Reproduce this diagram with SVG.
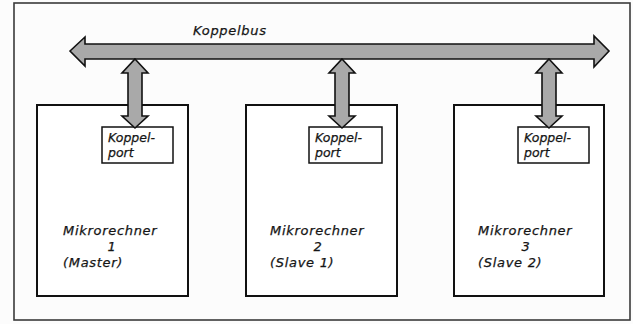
<svg xmlns="http://www.w3.org/2000/svg" width="633" height="324" viewBox="0 0 633 324">
  <style>
    .frame { fill: none; stroke: #3a3a3a; stroke-width: 1.6; }
    .unit { fill: #ffffff; stroke: #111111; stroke-width: 2; }
    .port { fill: #ffffff; stroke: #111111; stroke-width: 1.5; }
    .bus { fill: #a9a9a9; stroke: #111111; stroke-width: 1.6; stroke-linejoin: miter; }
    text { font-family: "DejaVu Sans", "Liberation Sans", sans-serif; font-style: italic; fill: #151515; stroke: #151515; stroke-width: 0.25; }
    .lbl { font-size: 13px; letter-spacing: 0.7px; }
    .plbl { font-size: 12.5px; }
    .mid { text-anchor: middle; }
  </style>

  <rect x="0" y="0" width="633" height="324" fill="#fcfcfc"/>
  <rect class="frame" x="14" y="3" width="616" height="317"/>

  <!-- computers -->
  <g id="mc1">
    <rect class="unit" x="37" y="105" width="151" height="191"/>
    <text class="lbl" x="63" y="235">Mikrorechner</text>
    <text class="lbl mid" x="112" y="251">1</text>
    <text class="lbl" x="63" y="267">(Master)</text>
  </g>
  <g id="mc2">
    <rect class="unit" x="246" y="105" width="151" height="191"/>
    <text class="lbl" x="270" y="235">Mikrorechner</text>
    <text class="lbl mid" x="318" y="251">2</text>
    <text class="lbl" x="270" y="267">(Slave 1)</text>
  </g>
  <g id="mc3">
    <rect class="unit" x="454" y="105" width="150" height="191"/>
    <text class="lbl" x="478" y="235">Mikrorechner</text>
    <text class="lbl mid" x="526" y="251">3</text>
    <text class="lbl" x="478" y="267">(Slave 2)</text>
  </g>

  <!-- coupling ports -->
  <g id="port1">
    <rect class="port" x="102" y="127" width="71" height="36"/>
    <text class="plbl" x="108" y="142">Koppel-</text>
    <text class="plbl" x="108" y="157">port</text>
  </g>
  <g id="port2">
    <rect class="port" x="309" y="127" width="73" height="36"/>
    <text class="plbl" x="315" y="142">Koppel-</text>
    <text class="plbl" x="315" y="157">port</text>
  </g>
  <g id="port3">
    <rect class="port" x="518" y="127" width="71" height="36"/>
    <text class="plbl" x="524" y="142">Koppel-</text>
    <text class="plbl" x="524" y="157">port</text>
  </g>

  <!-- bus and port links -->
  <g id="connectors">
    <polygon class="bus" points="70,51 85,37 85,44 594,44 594,36 609,51 594,67 594,59 85,59 85,66"/>
    <polygon class="bus" points="135,59 148,73 142,73 142,116 148,116 135,128 122,116 128,116 128,73 122,73"/>
    <polygon class="bus" points="342,59 355,73 349,73 349,116 355,116 342,128 329,116 335,116 335,73 329,73"/>
    <polygon class="bus" points="549,59 562,73 556,73 556,116 562,116 549,128 536,116 542,116 542,73 536,73"/>
  </g>

  <text id="buslabel" class="lbl" x="193" y="35">Koppelbus</text>
</svg>
